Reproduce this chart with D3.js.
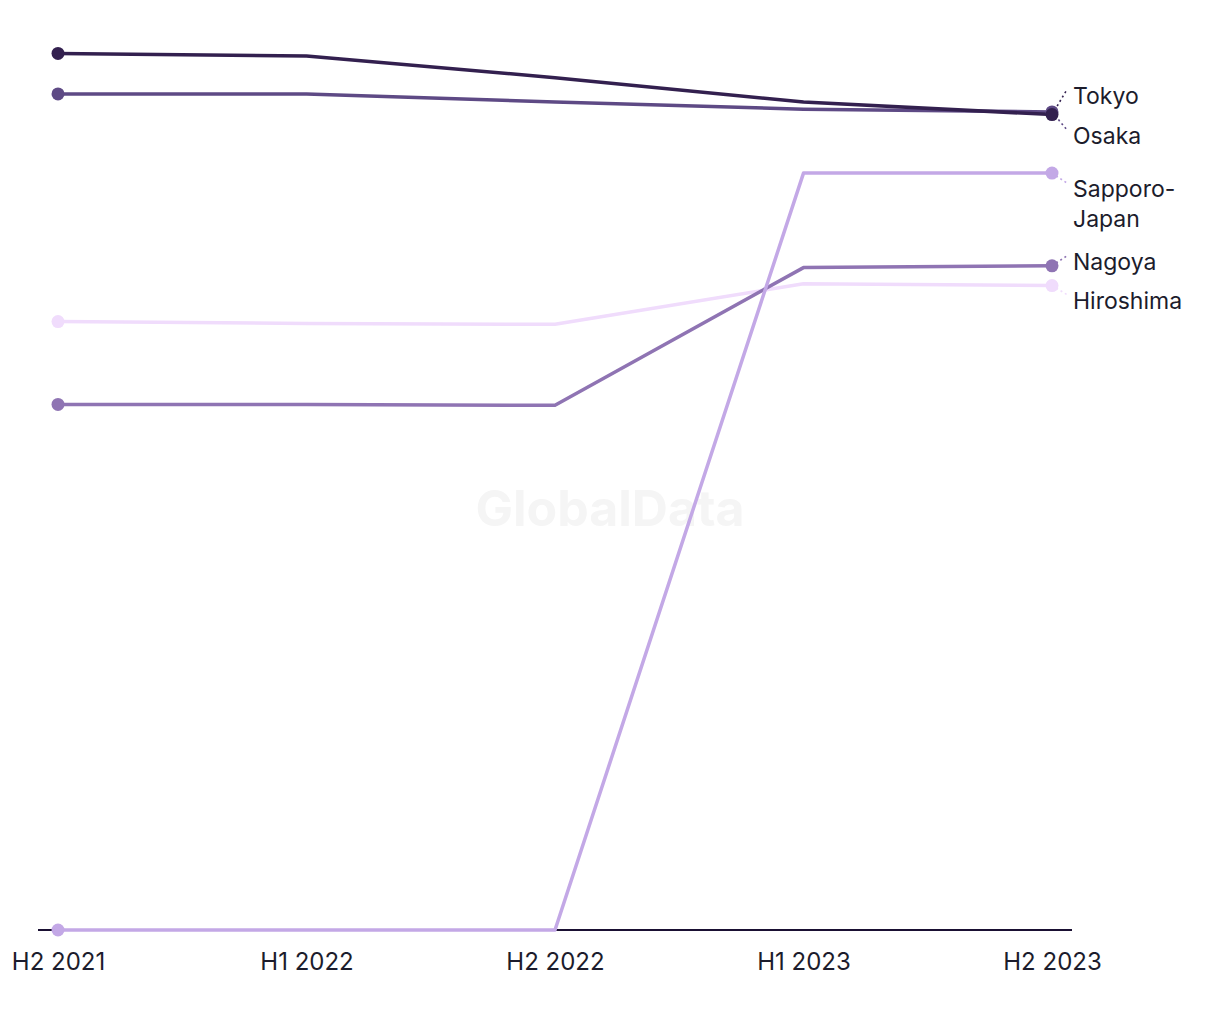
<!DOCTYPE html>
<html>
<head>
<meta charset="utf-8">
<script src="https://cdn.jsdelivr.net/npm/d3@7/dist/d3.min.js"></script>
<style>
  html, body { margin: 0; padding: 0; background: #fff; }
  svg { display: block; font-family: Inter, "Liberation Sans", sans-serif; }
</style>
</head>
<body>
<svg id="chart" width="1220" height="1020"></svg>
<script>
// ---- Data ----
const periods = ["H2 2021", "H1 2022", "H2 2022", "H1 2023", "H2 2023"];
const seriesNames = ["Hiroshima", "Nagoya", "Sapporo-Japan", "Osaka", "Tokyo"];
const hiroshima = [67.6, 67.4, 67.3, 71.8, 71.6];
const nagoya    = [58.4, 58.4, 58.3, 73.6, 73.8];
const sapporo   = [0, 0, 0, 84.1, 84.1];
const osaka     = [92.9, 92.9, 92.0, 91.2, 90.9];
const tokyo     = [97.4, 97.1, 94.7, 92.0, 90.6];
const seriesValues = [hiroshima, nagoya, sapporo, osaka, tokyo];

// ---- Style / layout ----
const colors = ["#f0dcfc", "#8f74b3", "#c3a8e6", "#5e4a85", "#33204f"];
const labelLines = [["Hiroshima"], ["Nagoya"], ["Sapporo-", "Japan"], ["Osaka"], ["Tokyo"]];
const labelShift = [17, -2, 18, 26, -17]; // label first-line offset from end point (collision avoidance)

const svg = d3.select("#chart");
const x = d3.scalePoint().domain(periods).range([58, 1052]);
const y = d3.scaleLinear().domain([0, 100]).range([930, 30]);

// watermark
svg.append("text")
  .attr("x", 610).attr("y", 512)
  .attr("text-anchor", "middle").attr("dominant-baseline", "middle")
  .attr("font-size", 50).attr("font-weight", 700)
  .attr("fill", "#f5f5f5")
  .text("GlobalData");

// x axis
const xAxis = svg.append("g").attr("transform", `translate(0,${y(0)})`)
  .call(d3.axisBottom(x).tickSize(0).tickPadding(23));
xAxis.select(".domain").remove();
xAxis.selectAll("text").attr("font-size", 24).attr("fill", "#1c1c2c")
  .attr("font-family", "Inter, 'Liberation Sans', sans-serif").attr("dy", "0.72em");
svg.append("line")
  .attr("x1", 38).attr("x2", 1072)
  .attr("y1", y(0)).attr("y2", y(0))
  .attr("stroke", "#1a1033").attr("stroke-width", 2);

const line = d3.line().x((d, i) => x(periods[i])).y(d => y(d));

const series = seriesNames.map((name, k) => ({
  name, values: seriesValues[k], color: colors[k], lines: labelLines[k], shift: labelShift[k]
}));

const g = svg.append("g");
series.forEach(s => {
  g.append("path")
    .attr("d", line(s.values))
    .attr("fill", "none")
    .attr("stroke", s.color)
    .attr("stroke-width", 3.5)
    .attr("stroke-linejoin", "round");
});

// leader lines
series.forEach(s => {
  const ex = x(periods[periods.length - 1]);
  const ey = y(s.values[s.values.length - 1]);
  const ly = ey + s.shift;
  g.append("line")
    .attr("x1", ex).attr("y1", ey)
    .attr("x2", ex + 15).attr("y2", ly - 8)
    .attr("stroke", s.color).attr("stroke-width", 1.6)
    .attr("stroke-dasharray", "2,3");
});

// dots
series.forEach(s => {
  [0, s.values.length - 1].forEach(i => {
    g.append("circle")
      .attr("cx", x(periods[i])).attr("cy", y(s.values[i]))
      .attr("r", 6.5).attr("fill", s.color);
  });
});

// labels
series.forEach(s => {
  const ex = x(periods[periods.length - 1]);
  const ey = y(s.values[s.values.length - 1]);
  const t = svg.append("text")
    .attr("x", ex + 21).attr("y", ey + s.shift)
    .attr("font-size", 23).attr("fill", "#1c1c2c")
    .attr("dominant-baseline", "middle");
  s.lines.forEach((ln, j) => {
    t.append("tspan").attr("x", ex + 21).attr("dy", j === 0 ? 0 : 30).text(ln);
  });
});
</script>
</body>
</html>
